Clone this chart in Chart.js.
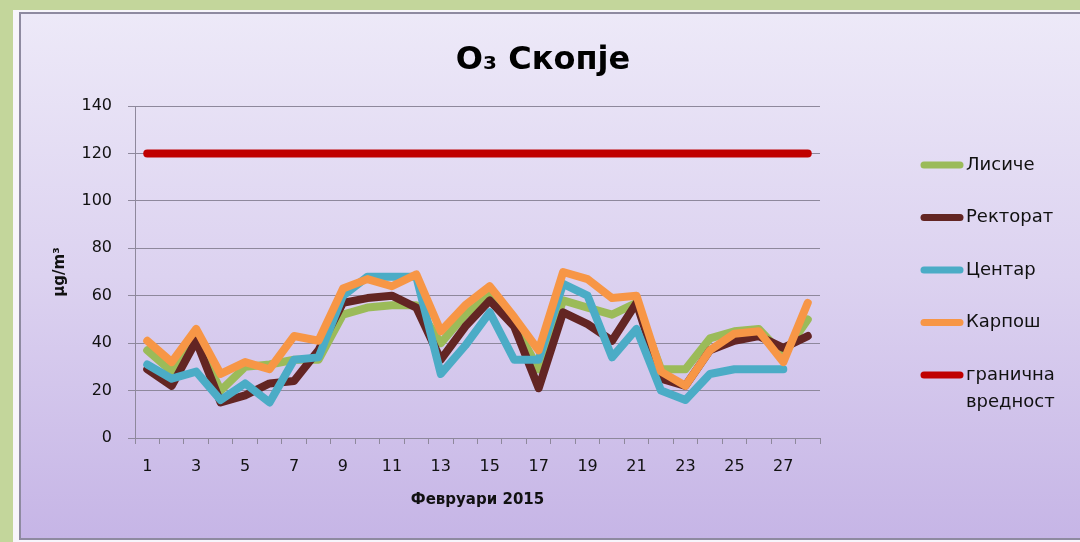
<!DOCTYPE html>
<html>
<head>
<meta charset="utf-8">
<script src="https://cdn.jsdelivr.net/npm/chart.js@4/dist/chart.umd.min.js"></script>
<style>
html,body{margin:0;padding:0;width:1080px;height:542px;overflow:hidden;background:#c3d69b;}
#outer{position:absolute;left:13px;top:10px;width:1080px;height:532px;background:#f7f5fb;}
#panel{position:absolute;left:19px;top:12px;width:1070px;height:524px;border-left:2px solid #8e8aa0;border-top:2px solid #8e8aa0;border-bottom:2px solid #8e8aa0;background:linear-gradient(#ede9f8,#dcd2f0 50%,#c6b5e6);}
#wrap{position:absolute;left:0;top:0;width:1080px;height:542px;}
</style>
</head>
<body>
<div id="outer"></div>
<div id="panel"></div>
<div id="wrap"><canvas id="c" width="1080" height="542"></canvas></div>
<script>
const days = ['1','2','3','4','5','6','7','8','9','10','11','12','13','14','15','16','17','18','19','20','21','22','23','24','25','26','27','28'];
const lisice   = [37, 28, 42, 20, 30, 31, 33, 33, 52, 55, 56, 56, 40, 52, 60, 48, 29, 58, 55, 52, 57, 29, 29, 42, 45, 46, 35, 50];
const rektorat = [29, 22, 41, 15, 18, 23, 24, 37, 57, 59, 60, 55, 33, 47, 58, 47, 21, 53, 48, 41, 57, 25, 22, 37, 41, 43, 38, 43];
const centar   = [31, 25, 28, 16, 23, 15, 33, 34, 60, 68, 68, 68, 27, 39, 53, 33, 33, 65, 60, 34, 46, 20, 16, 27, 29, 29, 29, null];
const karpos   = [41, 32, 46, 27, 32, 29, 43, 41, 63, 67, 64, 69, 45, 56, 64, 51, 37, 70, 67, 59, 60, 28, 22, 37, 44, 45, 32, 57];
const granica  = [120,120,120,120,120,120,120,120,120,120,120,120,120,120,120,120,120,120,120,120,120,120,120,120,120,120,120,120];
const yTicks = {min: 0, max: 140, step: 20};
const titleText = 'O₃ Скопје';
const xTitle = 'Февруари 2015';
const yTitle = 'μg/m³';

const FONT = '"DejaVu Sans", sans-serif';
const GRID = '#8e889c';

function wrapText(ctx, text, maxW){
  const words = text.split(' ');
  const lines = [];
  let cur = '';
  words.forEach(w => {
    const t = cur ? cur + ' ' + w : w;
    if (cur && ctx.measureText(t).width > maxW) { lines.push(cur); cur = w; }
    else cur = t;
  });
  if (cur) lines.push(cur);
  return lines;
}

const sideLegend = {
  id: 'sideLegend',
  beforeInit(chart){
    const box = {
      position: 'right', weight: 0, fullSize: false, options: {},
      update(maxW, maxH){ this.width = 260; this.height = maxH; },
      isHorizontal(){ return false; },
      draw(){
        const ctx = chart.ctx;
        ctx.save();
        ctx.font = '18px ' + FONT;
        ctx.textBaseline = 'middle';
        ctx.textAlign = 'left';
        chart.data.datasets.forEach((ds, i) => {
          const y = this.top + 59 + i * 52.5;
          const x0 = this.left + 100;
          ctx.strokeStyle = ds.borderColor;
          ctx.lineWidth = 7;
          ctx.lineCap = 'round';
          ctx.beginPath(); ctx.moveTo(x0 + 4, y); ctx.lineTo(x0 + 40, y); ctx.stroke();
          ctx.fillStyle = '#111';
          const lines = wrapText(ctx, ds.label, 108);
          lines.forEach((ln, k) => ctx.fillText(ln, x0 + 46, y + k * 27));
        });
        ctx.restore();
      }
    };
    Chart.layouts.addBox(chart, box);
  }
};

function ds(label, data, color, order){
  return {label, data, borderColor: color, backgroundColor: color, borderWidth: 8,
    pointRadius: 0, pointHoverRadius: 0, tension: 0, fill: false,
    borderCapStyle: 'round', borderJoinStyle: 'round', order};
}

new Chart(document.getElementById('c'), {
  type: 'line',
  data: {
    labels: days,
    datasets: [
      ds('Лисиче', lisice, '#9bbb59', 4),
      ds('Ректорат', rektorat, '#632523', 3),
      ds('Центар', centar, '#4bacc6', 2),
      ds('Карпош', karpos, '#f79646', 1),
      ds('гранична вредност', granica, '#c00000', 0)
    ]
  },
  options: {
    responsive: false,
    animation: false,
    layout: {padding: {left: 6, right: 0, top: 0, bottom: 12}},
    plugins: {
      legend: {display: false},
      tooltip: {enabled: false},
      title: {display: true, text: titleText, color: '#000',
        font: {family: FONT, size: 32, weight: 'bold', lineHeight: 1.2},
        padding: {top: 41, bottom: 26.6}}
    },
    scales: {
      x: {
        offset: true,
        afterFit(s){ s.height = 92; },
        grid: {display: true, drawOnChartArea: false, drawTicks: true, tickLength: 6, offset: true, color: GRID},
        border: {display: true, color: GRID, width: 1},
        ticks: {autoSkip: false, maxRotation: 0, padding: 13, color: '#111',
          font: {family: FONT, size: 16},
          callback(v, i){ return i % 2 === 0 ? this.getLabelForValue(v) : ''; }},
        title: {display: true, text: xTitle, color: '#111',
          font: {family: FONT, size: 15, weight: 'bold', lineHeight: 1.2},
          padding: {top: 0, bottom: 21}}
      },
      y: {
        min: yTicks.min, max: yTicks.max,
        afterFit(s){ s.width = 129; },
        grid: {color: GRID, drawTicks: true, tickLength: 7},
        border: {display: true, color: GRID, width: 1},
        ticks: {stepSize: yTicks.step, padding: 16, color: '#111', font: {family: FONT, size: 16}},
        title: {display: true, text: yTitle, color: '#111',
          font: {family: FONT, size: 15, weight: 'bold', lineHeight: 1.2},
          padding: {top: 45, bottom: 0}}
      }
    }
  },
  plugins: [sideLegend]
});
</script>
</body>
</html>
